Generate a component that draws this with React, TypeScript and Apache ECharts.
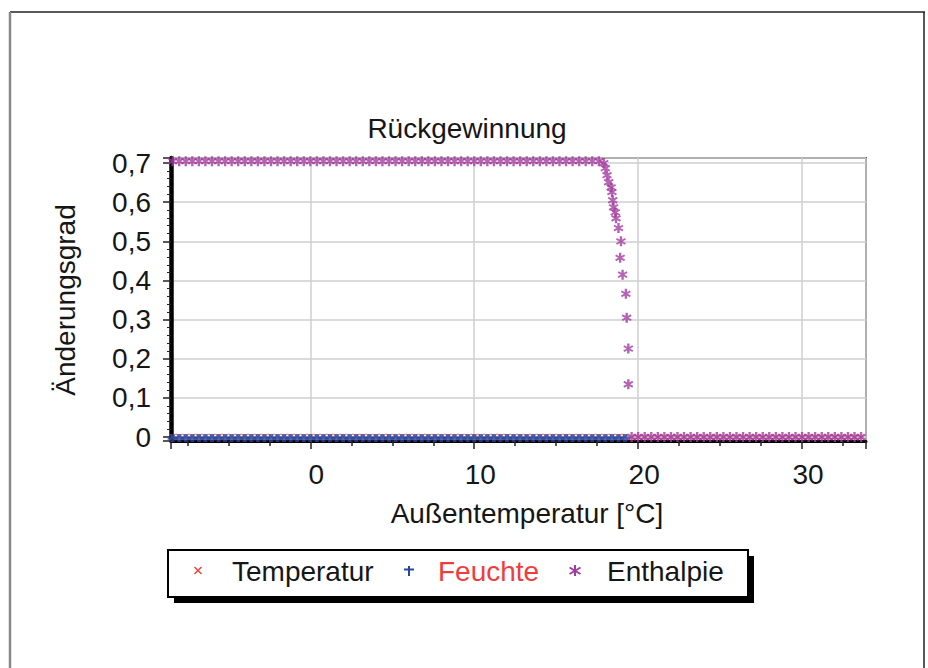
import React, { useEffect, useRef } from 'react';
import * as echarts from 'echarts';

const FONT = '"Liberation Sans", Arial, sans-serif';
const TEXT_COLOR = '#161616';

const seriesNames = ['Temperatur', 'Feuchte', 'Enthalpie'];
const titleText = 'Rückgewinnung';
const xAxisName = 'Außentemperatur [°C]';
const yAxisName = 'Änderungsgrad';

// Outside temperatures (°C)
const temps = [
  -8.4, -8.0, -7.6, -7.2, -6.8, -6.4, -6.0, -5.6, -5.2, -4.8,
  -4.4, -4.0, -3.6, -3.2, -2.8, -2.4, -2.0, -1.6, -1.2, -0.8,
  -0.4, 0.0, 0.4, 0.8, 1.2, 1.6, 2.0, 2.4, 2.8, 3.2,
  3.6, 4.0, 4.4, 4.8, 5.2, 5.6, 6.0, 6.4, 6.8, 7.2,
  7.6, 8.0, 8.4, 8.8, 9.2, 9.6, 10.0, 10.4, 10.8, 11.2,
  11.6, 12.0, 12.4, 12.8, 13.2, 13.6, 14.0, 14.4, 14.8, 15.2,
  15.6, 16.0, 16.4, 16.8, 17.2, 17.6, 18.0, 18.4, 18.8, 19.2,
  19.6, 20.0, 20.4, 20.8, 21.2, 21.6, 22.0, 22.4, 22.8, 23.2,
  23.6, 24.0, 24.4, 24.8, 25.2, 25.6, 26.0, 26.4, 26.8, 27.2,
  27.6, 28.0, 28.4, 28.8, 29.2, 29.6, 30.0, 30.4, 30.8, 31.2,
  31.6, 32.0, 32.4, 32.8, 33.2, 33.6,
];

const temperaturValues = [
  0, 0, 0, 0, 0, 0, 0, 0, 0, 0,
  0, 0, 0, 0, 0, 0, 0, 0, 0, 0,
  0, 0, 0, 0, 0, 0, 0, 0, 0, 0,
  0, 0, 0, 0, 0, 0, 0, 0, 0, 0,
  0, 0, 0, 0, 0, 0, 0, 0, 0, 0,
  0, 0, 0, 0, 0, 0, 0, 0, 0, 0,
  0, 0, 0, 0, 0, 0, 0, 0, 0, 0,
  0, 0, 0, 0, 0, 0, 0, 0, 0, 0,
  0, 0, 0, 0, 0, 0, 0, 0, 0, 0,
  0, 0, 0, 0, 0, 0, 0, 0, 0, 0,
  0, 0, 0, 0, 0, 0,
];

const feuchteValues = [
  0, 0, 0, 0, 0, 0, 0, 0, 0, 0,
  0, 0, 0, 0, 0, 0, 0, 0, 0, 0,
  0, 0, 0, 0, 0, 0, 0, 0, 0, 0,
  0, 0, 0, 0, 0, 0, 0, 0, 0, 0,
  0, 0, 0, 0, 0, 0, 0, 0, 0, 0,
  0, 0, 0, 0, 0, 0, 0, 0, 0, 0,
  0, 0, 0, 0, 0, 0, 0, 0, 0, 0,
  null, null, null, null, null, null, null, null, null, null,
  null, null, null, null, null, null, null, null, null, null,
  null, null, null, null, null, null, null, null, null, null,
  null, null, null, null, null, null,
];

const enthalpieValues = [
  0.705, 0.705, 0.705, 0.705, 0.705, 0.705, 0.705, 0.705, 0.705, 0.705,
  0.705, 0.705, 0.705, 0.705, 0.705, 0.705, 0.705, 0.705, 0.705, 0.705,
  0.705, 0.705, 0.705, 0.705, 0.705, 0.705, 0.705, 0.705, 0.705, 0.705,
  0.705, 0.705, 0.705, 0.705, 0.705, 0.705, 0.705, 0.705, 0.705, 0.705,
  0.705, 0.705, 0.705, 0.705, 0.705, 0.705, 0.705, 0.705, 0.705, 0.705,
  0.705, 0.705, 0.705, 0.705, 0.705, 0.705, 0.705, 0.705, 0.705, 0.705,
  0.705, 0.705, 0.705, 0.705, 0.705, 0.705, null, null, null, null,
  0, 0, 0, 0, 0, 0, 0, 0, 0, 0,
  0, 0, 0, 0, 0, 0, 0, 0, 0, 0,
  0, 0, 0, 0, 0, 0, 0, 0, 0, 0,
  0, 0, 0, 0, 0, 0,
];

// Steep drop of the enthalpy recovery around 18–19.5 °C
const enthalpieDropTemps = [
  17.9, 18.0, 18.1, 18.2, 18.35, 18.4, 18.45, 18.5, 18.6, 18.65,
  18.8, 18.95, 18.9, 19.05, 19.25, 19.3, 19.4, 19.4,
];
const enthalpieDropValues = [
  0.70, 0.687, 0.669, 0.651, 0.638, 0.626, 0.605, 0.587, 0.574, 0.559,
  0.534, 0.50, 0.458, 0.415, 0.366, 0.305, 0.226, 0.135,
];

const SYMBOL_X = 'path://M1,0 L5,4 L9,0 L10,1 L6,5 L10,9 L9,10 L5,6 L1,10 L0,9 L4,5 L0,1 Z';
const SYMBOL_PLUS =
  'path://M3,0 L7,0 L7,3 L10,3 L10,7 L7,7 L7,10 L3,10 L3,7 L0,7 L0,3 L3,3 Z';
const SYMBOL_STAR =
  'path://M3.8,0 L6.2,0 L6.2,10 L3.8,10 Z M0,3.2 L1,1.6 L10,6.8 L9,8.4 Z M1,8.4 L0,6.8 L9,1.6 L10,3.2 Z';

const COLORS = { temperatur: '#e8463c', feuchte: '#2646a0', enthalpie: '#a23c9f', feuchteText: '#f03c3c' };

function pairs(xs: number[], ys: (number | null)[]) {
  const out: number[][] = [];
  for (let i = 0; i < xs.length; i++) {
    const y = ys[i];
    if (y !== null && y !== undefined) out.push([xs[i], y]);
  }
  return out;
}

function isMultiple(v: number, step: number) {
  const r = v / step;
  return Math.abs(r - Math.round(r)) < 1e-6;
}

export default function App() {
  const ref = useRef<HTMLDivElement>(null);

  useEffect(() => {
    if (!ref.current) return;
    const chart = echarts.init(ref.current, null, { renderer: 'svg' });

    const legendY = 571;
    const option: any = {
      animation: false,
      backgroundColor: '#ffffff',
      grid: {
        left: 171,
        right: 62,
        top: 158,
        bottom: 227,
        show: true,
        borderColor: '#555',
        borderWidth: 2,
        backgroundColor: 'transparent',
      },
      xAxis: {
        type: 'value',
        min: -8.5,
        max: 33.9,
        splitNumber: 4,
        axisLine: { show: true, onZero: false, lineStyle: { color: '#000', width: 3 } },
        axisTick: { show: true, length: 8, lineStyle: { color: '#222', width: 1.5 } },
        minorTick: { show: true, splitNumber: 4, length: 5, lineStyle: { color: '#222', width: 1.5 } },
        splitLine: { show: true, lineStyle: { color: '#cfcfcf', width: 1.5 } },
        axisLabel: {
          margin: 19,
          color: TEXT_COLOR,
          fontFamily: FONT,
          fontSize: 28,
          padding: [0, 0, 0, 12],
          showMinLabel: false,
          showMaxLabel: false,
          formatter: (v: number) => (isMultiple(v, 10) ? String(Math.round(v)) : ''),
        },
      },
      yAxis: {
        type: 'value',
        min: -0.01,
        max: 0.713,
        splitNumber: 7,
        axisLine: { show: true, onZero: false, lineStyle: { color: '#000', width: 4.5 } },
        axisTick: { show: true, length: 8, lineStyle: { color: '#222', width: 1.5 } },
        minorTick: { show: true, splitNumber: 5, length: 4, lineStyle: { color: '#222', width: 1 } },
        splitLine: { show: true, lineStyle: { color: '#cfcfcf', width: 1.5 } },
        axisLabel: {
          margin: 20,
          color: TEXT_COLOR,
          fontFamily: FONT,
          fontSize: 28,
          formatter: (v: number) => {
            if (!isMultiple(v, 0.1)) return '';
            const r = Math.round(v * 10) / 10;
            return r === 0 ? '0' : r.toFixed(1).replace('.', ',');
          },
        },
      },
      series: [
        {
          type: 'scatter',
          name: seriesNames[0],
          data: pairs(temps, temperaturValues),
          symbol: SYMBOL_X,
          symbolSize: 7,
          itemStyle: { color: COLORS.temperatur },
          z: 2,
        },
        {
          type: 'scatter',
          name: seriesNames[1],
          data: pairs(temps, feuchteValues),
          symbol: SYMBOL_PLUS,
          symbolSize: [10, 8],
          symbolOffset: [0, 1],
          itemStyle: { color: COLORS.feuchte },
          z: 3,
        },
        {
          type: 'scatter',
          name: seriesNames[2],
          data: [...pairs(temps, enthalpieValues), ...pairs(enthalpieDropTemps, enthalpieDropValues)],
          symbol: SYMBOL_STAR,
          symbolSize: [10, 10],
          itemStyle: { color: COLORS.enthalpie },
          z: 4,
        },
      ],
      graphic: [
        // outer frame
        { type: 'line', shape: { x1: 10, y1: 12, x2: 925, y2: 12 }, style: { stroke: '#222', lineWidth: 1.5 } },
        { type: 'line', shape: { x1: 10, y1: 12, x2: 10, y2: 668 }, style: { stroke: '#888', lineWidth: 2.5 } },
        { type: 'line', shape: { x1: 924, y1: 12, x2: 924, y2: 668 }, style: { stroke: '#222', lineWidth: 1.5 } },
        // title & axis names
        {
          type: 'text', x: 467, y: 128,
          style: { text: titleText, font: `28px ${FONT}`, fill: TEXT_COLOR, align: 'center', verticalAlign: 'middle' },
        },
        {
          type: 'text', x: 527, y: 513,
          style: { text: xAxisName, font: `28px ${FONT}`, fill: TEXT_COLOR, align: 'center', verticalAlign: 'middle' },
        },
        {
          type: 'text', x: 65, y: 300, rotation: Math.PI / 2,
          style: { text: yAxisName, font: `28px ${FONT}`, fill: TEXT_COLOR, align: 'center', verticalAlign: 'middle' },
        },
        // legend
        { type: 'rect', shape: { x: 174, y: 556, width: 580, height: 47 }, style: { fill: '#000' } },
        { type: 'rect', shape: { x: 168, y: 550, width: 580, height: 47 }, style: { fill: '#fff', stroke: '#000', lineWidth: 2 } },
        { type: 'line', shape: { x1: 194.5, y1: legendY - 4, x2: 201.5, y2: legendY + 3 }, style: { stroke: COLORS.temperatur, lineWidth: 1.5 } },
        { type: 'line', shape: { x1: 201.5, y1: legendY - 4, x2: 194.5, y2: legendY + 3 }, style: { stroke: COLORS.temperatur, lineWidth: 1.5 } },
        {
          type: 'text', x: 232, y: legendY,
          style: { text: seriesNames[0], font: `28px ${FONT}`, fill: TEXT_COLOR, align: 'left', verticalAlign: 'middle' },
        },
        { type: 'line', shape: { x1: 409, y1: legendY - 5, x2: 409, y2: legendY + 5 }, style: { stroke: COLORS.feuchte, lineWidth: 2 } },
        { type: 'line', shape: { x1: 404, y1: legendY - 1.5, x2: 414, y2: legendY - 1.5 }, style: { stroke: COLORS.feuchte, lineWidth: 2 } },
        {
          type: 'text', x: 438, y: legendY,
          style: { text: seriesNames[1], font: `28px ${FONT}`, fill: COLORS.feuchteText, align: 'left', verticalAlign: 'middle' },
        },
        { type: 'line', shape: { x1: 575, y1: legendY - 6, x2: 575, y2: legendY + 5 }, style: { stroke: COLORS.enthalpie, lineWidth: 2 } },
        { type: 'line', shape: { x1: 569.5, y1: legendY - 3.5, x2: 580.5, y2: legendY + 3 }, style: { stroke: COLORS.enthalpie, lineWidth: 2 } },
        { type: 'line', shape: { x1: 580.5, y1: legendY - 3.5, x2: 569.5, y2: legendY + 3 }, style: { stroke: COLORS.enthalpie, lineWidth: 2 } },
        {
          type: 'text', x: 607, y: legendY,
          style: { text: seriesNames[2], font: `28px ${FONT}`, fill: TEXT_COLOR, align: 'left', verticalAlign: 'middle' },
        },
      ],
    };

    chart.setOption(option);
    return () => chart.dispose();
  }, []);

  return (
    <div
      ref={ref}
      style={{ position: 'fixed', left: 0, top: 0, width: 928, height: 668, background: '#fff' }}
    />
  );
}
